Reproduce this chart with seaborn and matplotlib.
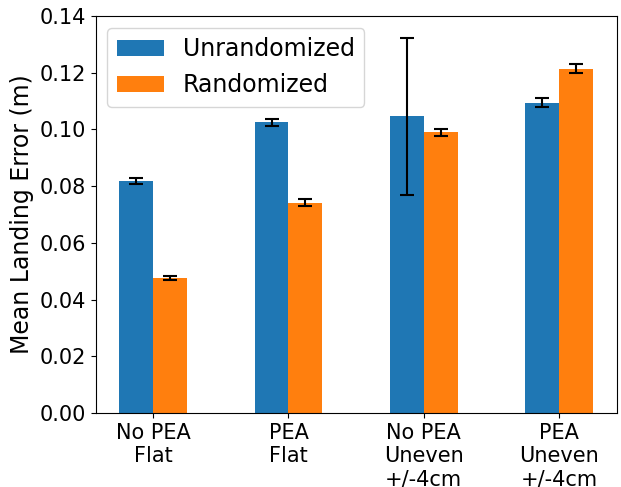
import matplotlib
matplotlib.use("Agg")
import matplotlib.pyplot as plt
import seaborn as sns
import pandas as pd
import numpy as np

categories = ["No PEA\nFlat", "PEA\nFlat", "No PEA\nUneven\n+/-4cm", "PEA\nUneven\n+/-4cm"]
series = ["Unrandomized", "Randomized"]
unrandomized = [0.0818, 0.1026, 0.1047, 0.1095]
unrandomized_err = [0.0010, 0.0012, 0.0277, 0.0015]
randomized = [0.0475, 0.0742, 0.0990, 0.1215]
randomized_err = [0.0007, 0.0013, 0.0012, 0.0016]

df = pd.DataFrame({
    "cat": categories * 2,
    "series": [series[0]] * 4 + [series[1]] * 4,
    "value": unrandomized + randomized,
    "err": unrandomized_err + randomized_err,
})

fig = plt.figure(figsize=(6.21, 4.87), dpi=100)
ax = fig.add_axes([0.154, 0.152, 0.839, 0.815])
sns.barplot(data=df, x="cat", y="value", hue="series", order=categories,
            hue_order=series, palette=["#1f77b4", "#ff7f0e"], saturation=1,
            width=0.5, errorbar=None, ax=ax)

# error bars at bar centres
for container, s in zip(ax.containers, series):
    sub = df[df["series"] == s].set_index("cat").loc[categories]
    xs = [p.get_x() + p.get_width() / 2 for p in container.patches]
    ys = [p.get_height() for p in container.patches]
    ax.errorbar(xs, ys, yerr=sub["err"].values, fmt="none", ecolor="black",
                elinewidth=1.5, capsize=5, capthick=1.5)

ax.set_ylim(0, 0.14)
ax.set_yticks(np.arange(0, 0.141, 0.02))
ax.set_yticklabels([f"{v:.2f}" for v in np.arange(0, 0.141, 0.02)])
ax.set_xlim(-0.425, 3.425)
ax.set_xlabel("")
ax.set_ylabel("Mean Landing Error (m)", fontsize=17)
ax.tick_params(labelsize=15)
leg = ax.legend(loc="upper left", fontsize=17, title=None)
fig.savefig("out.png", dpi=100)
